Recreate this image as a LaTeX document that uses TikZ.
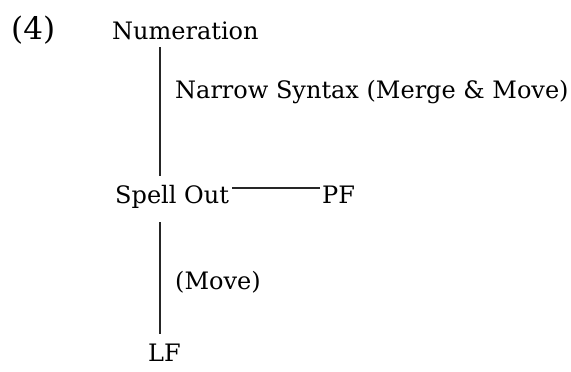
\documentclass[tikz,border=0pt]{standalone}
\usepackage{fontspec}
\setmainfont{DejaVu Serif}
\begin{document}
\begin{tikzpicture}[x=1pt,y=-1pt,
  lbl/.style={anchor=base west,inner sep=0pt,font=\fontsize{24}{28}\selectfont,text=black},
  conn/.style={draw=black!85,line width=1.2pt}]
\useasboundingbox (0,0) rectangle (571,372);
\node[lbl,font=\fontsize{31}{34}\selectfont] (ex) at (11,39) {(4)};
\node[lbl] (num) at (112,39) {Numeration};
\node[lbl] (ns) at (175,98) {Narrow Syntax (Merge \& Move)};
\node[lbl] (so) at (115,203) {Spell Out};
\node[lbl] (pf) at (322,203) {PF};
\node[lbl] (mv) at (175,289) {(Move)};
\node[lbl] (lf) at (148,361) {LF};
\coordinate (ax) at (160,0);
\coordinate (hy) at (0,188);
\draw[conn] (ax |- 0,47) -- (ax |- 0,176);
\draw[conn] (ax |- 0,222) -- (ax |- 0,334);
\draw[conn] ([xshift=3pt]so.east |- hy) -- ([xshift=-2pt]pf.west |- hy);
\end{tikzpicture}
\end{document}
